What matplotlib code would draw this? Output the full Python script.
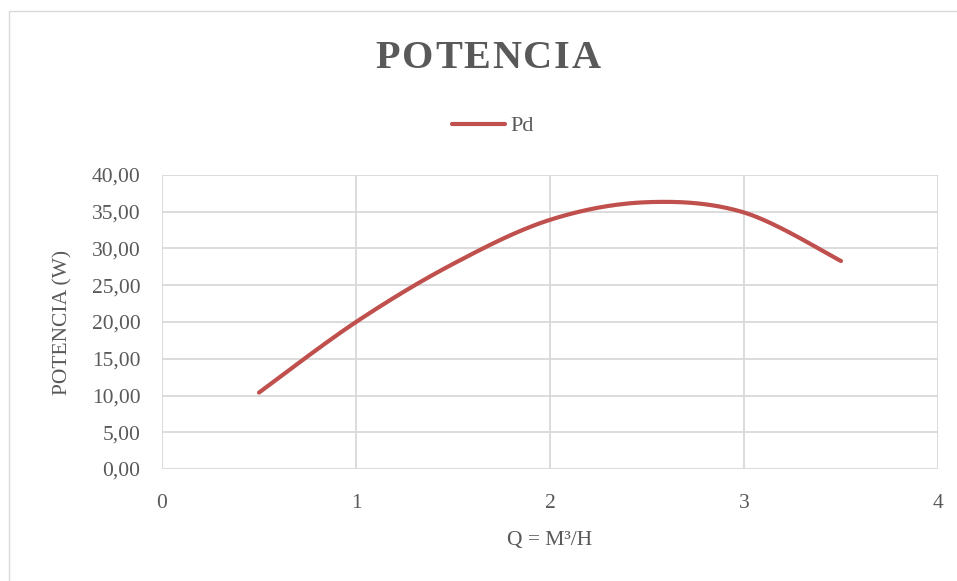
import numpy as np
import matplotlib
matplotlib.use("Agg")
import matplotlib.pyplot as plt
from matplotlib.patches import Rectangle

# data
caudal = [0.5, 1.0, 1.5, 2.0, 2.5, 3.0, 3.5]
potencia = [10.4, 20.0, 27.9, 33.9, 36.3, 34.9, 28.3]
x_ticks = [0, 1, 2, 3, 4]
y_ticks = [0, 5, 10, 15, 20, 25, 30, 35, 40]
titulo = 'POTENCIA'

gris = '#595959'
rojo = '#c0504d'
plt.rcParams['font.family'] = ['Liberation Serif', 'DejaVu Serif']


def suavizar(x, y, n=40):
    # Excel-like smoothing: cubic bezier between points, catmull-rom controls
    x = np.asarray(x, float)
    y = np.asarray(y, float)
    px = np.concatenate([[x[0]], x, [x[-1]]])
    py = np.concatenate([[y[0]], y, [y[-1]]])
    xs, ys = [], []
    t = np.linspace(0, 1, n)
    for i in range(1, len(px) - 2):
        p0 = np.array([px[i], py[i]])
        p3 = np.array([px[i + 1], py[i + 1]])
        p1 = p0 + (np.array([px[i + 1], py[i + 1]]) - np.array([px[i - 1], py[i - 1]])) / 6
        p2 = p3 - (np.array([px[i + 2], py[i + 2]]) - np.array([px[i], py[i]])) / 6
        b = ((1 - t) ** 3)[:, None] * p0 + (3 * (1 - t) ** 2 * t)[:, None] * p1 \
            + (3 * (1 - t) * t ** 2)[:, None] * p2 + (t ** 3)[:, None] * p3
        xs.extend(b[:, 0])
        ys.extend(b[:, 1])
    return xs, ys


W, H = 957, 581
fig = plt.figure(figsize=(W / 100, H / 100), dpi=100)
ax = fig.add_axes([162 / W, 1 - 469 / H, 776 / W, 294 / H])

sx, sy = suavizar(caudal, potencia)
ax.plot(sx, sy, color=rojo, lw=3, solid_capstyle='round', label='Pd')

ax.set_xlim(0, 4)
ax.set_ylim(0, 40)
ax.set_xticks(x_ticks)
ax.set_yticks(y_ticks)
ax.set_yticklabels([f'{v:.2f}'.replace('.', ',') for v in y_ticks])
ax.grid(True, color='#d9d9d9', lw=1.3)
ax.set_axisbelow(True)
for s in ax.spines.values():
    s.set_visible(False)
ax.tick_params(length=0, labelsize=15.5, colors=gris)
ax.tick_params(axis='y', pad=15.5)
ax.tick_params(axis='x', pad=18)

ax.set_xlabel('Q = M³/H', fontsize=15.5, color=gris, labelpad=13)
ax.set_ylabel('POTENCIA (W)', fontsize=15.5, color=gris, labelpad=14)

# title with letter spacing, letters placed one by one
r = fig.canvas.get_renderer()
kw = dict(fontsize=29, fontweight='bold', color=gris, va='center', ha='left')
anchos = []
for ch in titulo:
    tt = fig.text(0, 0, ch, **kw)
    anchos.append(tt.get_window_extent(r).width)
    tt.remove()
hueco = 1.7
x0 = 488 - (sum(anchos) + hueco * (len(titulo) - 1)) / 2
for ch, w in zip(titulo, anchos):
    fig.text(x0 / W, 1 - 58 / H, ch, **kw)
    x0 += w + hueco

leg = ax.legend(loc='center', bbox_to_anchor=(0.4265, 1.166), frameon=False,
                fontsize=16, handlelength=2.4, handletextpad=0.22)
for t in leg.get_texts():
    t.set_color(gris)

# outer chart frame (only left/top visible in the crop)
fig.patches.append(Rectangle((9 / W, -0.1), 1.2, 1.1 - 11 / H, transform=fig.transFigure,
                             fill=False, edgecolor='#d9d9d9', lw=1))

fig.savefig('out.png', dpi=100)
